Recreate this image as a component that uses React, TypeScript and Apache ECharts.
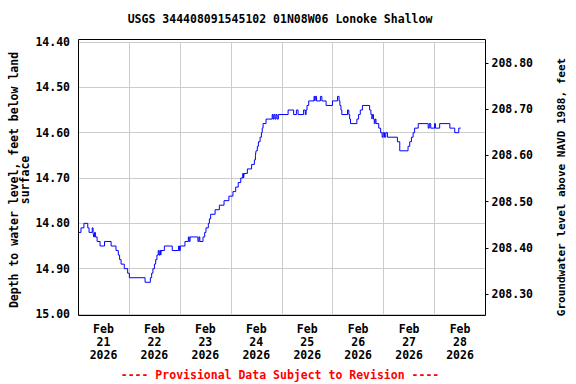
import React, { useEffect, useRef } from "react";
import * as echarts from "echarts";

const TITLE = "USGS 344408091545102 01N08W06 Lonoke Shallow";
const LEFT_NAME_1 = "Depth to water level, feet below land";
const LEFT_NAME_2 = "surface";
const RIGHT_NAME = "Groundwater level above NAVD 1988, feet";
const FOOTER = "---- Provisional Data Subject to Revision ----";

// x tick labels (placed at noon of each day; hours since Feb 21 00:00)
const dayLabels = ["Feb\n21\n2026", "Feb\n22\n2026", "Feb\n23\n2026", "Feb\n24\n2026", "Feb\n25\n2026", "Feb\n26\n2026", "Feb\n27\n2026", "Feb\n28\n2026"];
const dayLabelHours = [12, 36, 60, 84, 108, 132, 156, 180];

const leftTicks = [14.4, 14.5, 14.6, 14.7, 14.8, 14.9, 15.0];
const rightTicks = [208.3, 208.4, 208.5, 208.6, 208.7, 208.8];

// hours since 2026-02-21 00:00
const hours = [
  0, 1.4, 2.8, 4.6, 5.2, 6.7, 7.1, 7.4, 7.8, 8.2, 9.0, 10.4, 12.5, 15.6, 17.9, 19.0, 19.6, 20.3, 21.8, 23.4,
  24.2, 31.6, 34.1, 34.7, 35.3, 36.0, 36.6, 37.2, 37.8, 38.2, 38.6, 39.0, 39.1, 40.7, 44.4, 47.4, 47.8, 48.2, 50.4, 52.0,
  52.4, 52.8, 56.5, 57.0, 57.4, 58.9, 59.7, 60.3, 61.4, 61.9, 62.5, 64.6, 66.6, 68.8, 71.1, 73.0, 74.3, 75.5, 76.7, 77.6,
  78.0, 78.3, 79.8, 81.8, 83.1, 83.6, 83.9, 84.5, 85.0, 85.8, 86.4, 86.8, 87.2, 88.6, 91.5, 91.9, 92.3, 92.8, 93.3, 93.8,
  94.4, 99.0, 101.6, 102.9, 103.7, 106.3, 107.1, 107.5, 107.9, 108.7, 111.2, 111.6, 111.9, 112.4, 114.2, 114.9, 116.9, 119.9, 122.3, 123.0,
  123.4, 123.9, 124.3, 127.0, 127.6, 128.0, 128.4, 131.4, 132.2, 133.0, 134.0, 137.4, 138.0, 138.5, 138.8, 139.2, 139.6, 140.0, 140.4, 141.7,
  142.6, 143.3, 143.8, 144.4, 145.0, 145.8, 150.5, 151.6, 155.5, 156.3, 157.1, 157.9, 158.6, 160.3, 165.0, 165.5, 166.2, 168.0, 168.4, 170.4,
  175.2, 177.5, 179.4, 180.3,
];
const depths = [
  14.82, 14.81, 14.80, 14.81, 14.82, 14.81, 14.82, 14.83, 14.82, 14.83, 14.84, 14.85, 14.84, 14.85, 14.86, 14.87, 14.88, 14.89, 14.90, 14.91,
  14.92, 14.93, 14.92, 14.91, 14.90, 14.89, 14.88, 14.87, 14.86, 14.87, 14.86, 14.87, 14.86, 14.85, 14.86, 14.85, 14.86, 14.85, 14.84, 14.83,
  14.84, 14.83, 14.84, 14.83, 14.84, 14.83, 14.82, 14.81, 14.80, 14.79, 14.78, 14.77, 14.76, 14.75, 14.74, 14.73, 14.72, 14.71, 14.70, 14.69,
  14.70, 14.69, 14.68, 14.67, 14.66, 14.65, 14.64, 14.63, 14.62, 14.61, 14.60, 14.59, 14.58, 14.57, 14.56, 14.57, 14.56, 14.57, 14.56, 14.57,
  14.56, 14.55, 14.56, 14.55, 14.56, 14.55, 14.56, 14.55, 14.54, 14.53, 14.52, 14.53, 14.52, 14.53, 14.52, 14.53, 14.54, 14.53, 14.52, 14.53,
  14.54, 14.55, 14.56, 14.55, 14.56, 14.57, 14.58, 14.57, 14.56, 14.55, 14.54, 14.55, 14.56, 14.57, 14.56, 14.57, 14.58, 14.57, 14.58, 14.59,
  14.60, 14.61, 14.60, 14.61, 14.60, 14.61, 14.62, 14.64, 14.63, 14.62, 14.61, 14.60, 14.59, 14.58, 14.59, 14.58, 14.59, 14.58, 14.59, 14.58,
  14.59, 14.60, 14.59, 14.59,
];

const FONT = "'DejaVu Sans Mono', 'Liberation Mono', monospace";

export default function App() {
  const ref = useRef<HTMLDivElement>(null);
  useEffect(() => {
    if (!ref.current) return;
    const chart = echarts.init(ref.current, null, { renderer: "svg" });
    const data = hours.map((h, i) => [h, depths[i]]);
    const labelMap: Record<number, string> = {};
    dayLabelHours.forEach((h, i) => (labelMap[h] = dayLabels[i]));
    chart.setOption({
      animation: false,
      backgroundColor: "#ffffff",
      grid: { left: 78, right: 90.5, top: 42, bottom: 70, containLabel: false },
      xAxis: {
        type: "value",
        min: 0,
        max: 192,
        interval: 24,
        axisLine: { show: false },
        axisTick: { show: false },
        splitLine: { show: true, lineStyle: { color: "#cccccc", width: 1 } },
        axisLabel: {
          customValues: dayLabelHours,
          formatter: (v: number) => labelMap[Math.round(v)] ?? "",
          fontFamily: FONT,
          fontWeight: "bold",
          fontSize: 11.5,
          lineHeight: 12.7,
          color: "#000",
          margin: 9,
        },
      },
      yAxis: [
        {
          type: "value",
          inverse: true,
          min: 14.4,
          max: 15.0,
          interval: 0.1,
          position: "left",
          axisLine: { show: false },
          axisTick: { show: false },
          splitLine: { show: true, lineStyle: { color: "#cccccc", width: 1 } },
          axisLabel: {
            customValues: leftTicks,
            formatter: (v: number) => v.toFixed(2),
            fontFamily: FONT,
            fontWeight: "bold",
            fontSize: 11.5,
            color: "#000",
            margin: 8,
          },
        },
        {
          type: "value",
          min: 208.2567,
          max: 208.8455,
          position: "right",
          axisLine: { show: false },
          splitLine: { show: false },
          axisTick: {
            show: true,
            customValues: rightTicks,
            length: 3,
            lineStyle: { color: "#000", width: 1 },
          },
          axisLabel: {
            customValues: rightTicks,
            formatter: (v: number) => v.toFixed(2),
            fontFamily: FONT,
            fontWeight: "bold",
            fontSize: 11.5,
            color: "#000",
            margin: 6,
          },
        },
      ],
      series: [
        {
          type: "line",
          yAxisIndex: 0,
          data,
          step: "end",
          showSymbol: false,
          symbol: "none",
          lineStyle: { color: "#0000ff", width: 1 },
          z: 3,
        },
      ],
      graphic: [
        {
          type: "rect",
          shape: { x: 78.5, y: 39.5, width: 407, height: 276 },
          style: { fill: "none", stroke: "#000", lineWidth: 1 },
          z: 10,
          silent: true,
        },
        {
          type: "text",
          x: 280,
          y: 19,
          style: {
            text: TITLE,
            fontFamily: FONT,
            fontWeight: "bold",
            fontSize: 11.5,
            fill: "#000",
            textAlign: "center",
            textVerticalAlign: "middle",
          },
        },
        {
          type: "text",
          x: 14,
          y: 180,
          rotation: Math.PI / 2,
          style: {
            text: LEFT_NAME_1,
            fontFamily: FONT,
            fontWeight: "bold",
            fontSize: 11.5,
            fill: "#000",
            textAlign: "center",
            textVerticalAlign: "middle",
          },
        },
        {
          type: "text",
          x: 25,
          y: 180,
          rotation: Math.PI / 2,
          style: {
            text: LEFT_NAME_2,
            fontFamily: FONT,
            fontWeight: "bold",
            fontSize: 11.5,
            fill: "#000",
            textAlign: "center",
            textVerticalAlign: "middle",
          },
        },
        {
          type: "text",
          x: 561,
          y: 187,
          rotation: Math.PI / 2,
          style: {
            text: RIGHT_NAME,
            fontFamily: FONT,
            fontWeight: "bold",
            fontSize: 11,
            fill: "#000",
            textAlign: "center",
            textVerticalAlign: "middle",
          },
        },
        {
          type: "text",
          x: 280,
          y: 375,
          style: {
            text: FOOTER,
            fontFamily: FONT,
            fontWeight: "bold",
            fontSize: 11.5,
            fill: "#ff0000",
            textAlign: "center",
            textVerticalAlign: "middle",
          },
        },
      ],
    });
    return () => chart.dispose();
  }, []);
  return <div ref={ref} style={{ position: "fixed", left: 0, top: 0, width: 576, height: 384 }} />;
}
